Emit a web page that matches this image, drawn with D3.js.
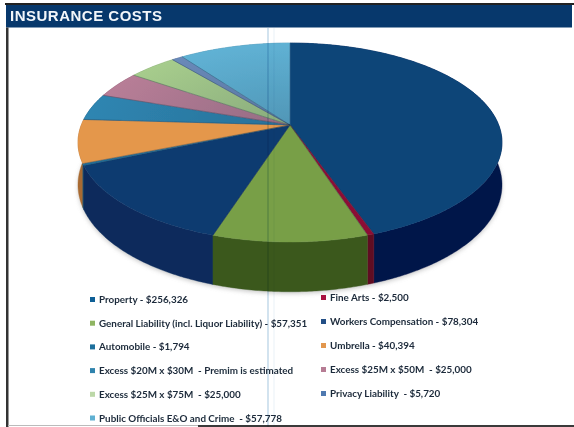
<!DOCTYPE html>
<html><head><meta charset="utf-8">
<script src="https://cdn.jsdelivr.net/npm/d3@7/dist/d3.min.js"></script>
<style>html,body{margin:0;padding:0;background:#fff}svg{display:block}</style>
</head><body><svg id="c" width="574" height="427"></svg>
<script>
const title = "INSURANCE COSTS";
const categories = ["Property","Fine Arts","General Liability","Workers Compensation","Automobile","Umbrella","Excess 20x30","Excess 25x50","Excess 25x75","Privacy Liability","Public Officials"];
const values = [256326,2500,57351,78304,1794,40394,25000,25000,25000,5720,57778];
const topColors = ["#094478","#8c0f36","#789f46","#0e3a70","#1d6f9c","#e4974c","#2f86b2","#ba7f98","#aad08e","#6c8cbc","#62b6d9"];
const sideColors = ["#03154a","#5e0a22","#3a591e","#0a2a5c","#0f4466","#a86a30","#1d5a7a","#7f5064","#6f9460","#485f85","#3f7f9c"];
const shadedSlices = ["Excess 20x30","Excess 25x50","Excess 25x75","Privacy Liability","Public Officials"];
const legendLeft = ["Property - $256,326","General Liability (incl. Liquor Liability) - $57,351","Automobile - $1,794","Excess $20M x $30M  - Premim is estimated","Excess $25M x $75M  - $25,000","Public Officials E&O and Crime  - $57,778"];
const legendRight = ["Fine Arts - $2,500","Workers Compensation - $78,304","Umbrella - $40,394","Excess $25M x $50M  - $25,000","Privacy Liability  - $5,720"];
const legendLeftColors = ["#0e5f96","#8fb562","#1d6f9c","#2f83ad","#bcd8a8","#5fb0d2"];
const legendRightColors = ["#a81040","#234f86","#e2974e","#b67c94","#4f79b0"];

const svg = d3.select("#c");
const cx = 290, cy = 125, A = 208.7, B = 96.4, k = -0.176, depth = 41;
function proj(theta, drop) {
  const u = Math.sin(theta), v = -Math.cos(theta), w = 1 + k * v;
  return [cx + A * u / w, cy + B * v / w + (drop ? depth / w : 0)];
}
const pie = d3.pie().sort(null).startAngle(0).endAngle(2 * Math.PI);
const arcs = pie(values);
const samples = (a, b) => { const n = Math.max(2, Math.ceil((b - a) / 0.01)); return d3.range(n + 1).map(i => a + (b - a) * i / n); };
const line = d3.line();

const defs = svg.append("defs");
const flt = defs.append("filter").attr("id","blur").attr("x","-5%").attr("y","-5%").attr("width","110%").attr("height","110%");
flt.append("feGaussianBlur").attr("stdDeviation",0.5);
const shadow = defs.append("filter").attr("id","sh").attr("x","-10%").attr("y","-10%").attr("width","120%").attr("height","120%");
shadow.append("feGaussianBlur").attr("stdDeviation",2);
const txtBlur = defs.append("filter").attr("id","tb");
txtBlur.append("feGaussianBlur").attr("stdDeviation",0.3);
const shade = defs.append("radialGradient").attr("id","shade").attr("gradientUnits","userSpaceOnUse")
  .attr("cx",cx).attr("cy",cy).attr("r",1)
  .attr("gradientTransform",`translate(${cx} ${cy}) scale(${A} ${B}) translate(${-cx} ${-cy})`);
shade.append("stop").attr("offset","0%").attr("stop-color","#10253c").attr("stop-opacity",0.22);
shade.append("stop").attr("offset","100%").attr("stop-color","#10253c").attr("stop-opacity",0);

// header and page frame
svg.append("rect").attr("x",5).attr("y",3).attr("width",569).attr("height",2).attr("fill","#222");
svg.append("rect").attr("x",6).attr("y",5).attr("width",566).attr("height",22.5).attr("fill","#07386c");
svg.append("rect").attr("x",6).attr("y",27.5).attr("width",2.5).attr("height",400).attr("fill","#333");
svg.append("rect").attr("x",8).attr("y",425).attr("width",190).attr("height",1).attr("fill","#bbb");
svg.append("rect").attr("x",198).attr("y",425).attr("width",376).attr("height",2).attr("fill","#3a3a3a");
svg.append("text").attr("x",10).attr("y",21).attr("fill","#f2f6fa").attr("filter","url(#tb)")
  .attr("font-family","Liberation Sans").attr("font-weight",700).attr("font-size",15).attr("letter-spacing",0.5).text(title);

const g = svg.append("g").attr("filter","url(#blur)");
g.append("path").attr("filter","url(#sh)").attr("fill","#999").attr("opacity",0.5)
  .attr("d", line(samples(0, 2*Math.PI).map(t => { const p = proj(t,true); return [p[0], p[1]+2]; })) + "Z");
const order = d3.range(arcs.length).sort((a,b) => -Math.cos((arcs[a].startAngle+arcs[a].endAngle)/2) - -Math.cos((arcs[b].startAngle+arcs[b].endAngle)/2));
order.forEach(i => {
  const s = samples(arcs[i].startAngle, arcs[i].endAngle);
  const pts = s.map(t => proj(t,false)).concat(s.slice().reverse().map(t => proj(t,true)));
  g.append("path").attr("d", line(pts) + "Z").attr("fill", sideColors[i]).attr("stroke", sideColors[i]).attr("stroke-width",0.4);
});
arcs.forEach((d,i) => {
  const pts = [[cx,cy]].concat(samples(d.startAngle,d.endAngle).map(t => proj(t,false)));
  g.append("path").attr("d", line(pts) + "Z").attr("fill", topColors[i]).attr("stroke", topColors[i]).attr("stroke-width",0.4);
});
// darkening toward the apex on the pale back slices
arcs.forEach((d,i) => {
  if (!shadedSlices.includes(categories[i])) return;
  const pts = [[cx,cy]].concat(samples(d.startAngle,d.endAngle).map(t => proj(t,false)));
  g.append("path").attr("d", line(pts) + "Z").attr("fill","url(#shade)");
});
// thin dark seams between slices
arcs.forEach(d => {
  g.append("path").attr("d", line([[cx,cy],proj(d.startAngle,false)])).attr("stroke","#1b2b44").attr("stroke-width",0.6).attr("opacity",0.5).attr("fill","none");
});
// faint scanner lines
[[268,"#8fb8d6",1,0.8],[274,"#c4dcea",1,0.4]].forEach(([x,c,w,o]) => {
  svg.append("line").attr("x1",x).attr("x2",x).attr("y1",28).attr("y2",427).attr("stroke",c).attr("stroke-width",w).attr("opacity",o).style("mix-blend-mode","multiply");
});

function legend(items, colors, mx, tx, y0, dy) {
  items.forEach((t,i) => {
    const y = y0 + dy * i;
    svg.append("rect").attr("x",mx).attr("y",y-2.5).attr("width",5).attr("height",5).attr("fill",colors[i]);
    svg.append("text").attr("x",tx).attr("y",y+3.5).attr("fill","#1c2a3a").attr("font-family","Lato").attr("font-weight",700)
      .attr("font-size",9.85).attr("filter","url(#tb)").attr("xml:space","preserve").text(t);
  });
}
legend(legendLeft, legendLeftColors, 90, 99, 299.5, 23.7);
legend(legendRight, legendRightColors, 321, 330, 297.5, 24);
</script></body></html>
